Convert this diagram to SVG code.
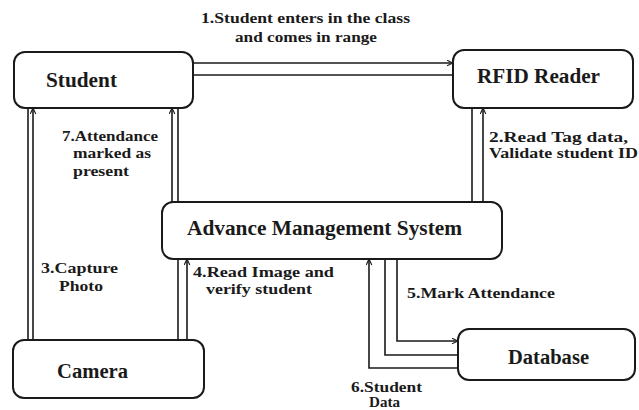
<svg xmlns="http://www.w3.org/2000/svg" width="639" height="410" viewBox="0 0 639 410">
  <style>
    .box { fill: #ffffff; stroke: #1a1a1a; stroke-width: 2; }
    .node { font-family: "Liberation Serif", "Times New Roman", serif; font-weight: bold; font-size: 20px; fill: #1a1a1a; }
    .lbl { font-family: "Liberation Serif", "Times New Roman", serif; font-weight: bold; font-size: 15px; fill: #1a1a1a; }
    .ln { fill: none; stroke: #1a1a1a; stroke-width: 1.6; }
    .arr { marker-end: url(#ah); }
  </style>
  <defs>
    <marker id="ah" viewBox="0 0 10 10" refX="9.5" refY="5" markerWidth="7" markerHeight="7" markerUnits="userSpaceOnUse" orient="auto">
      <path d="M1,1 L9.5,5 L1,9" fill="none" stroke="#1a1a1a" stroke-width="1.6"/>
    </marker>
  </defs>
  <rect width="639" height="410" fill="#ffffff"/>

  <g id="connectors">
    <!-- 1. Student -> RFID -->
    <line class="ln arr" x1="193" y1="63" x2="453" y2="63"/>
    <line class="ln" x1="193" y1="75" x2="453" y2="75"/>
    <!-- 2. AMS -> RFID -->
    <line class="ln" x1="472" y1="108" x2="472" y2="202"/>
    <line class="ln arr" x1="483" y1="202" x2="483" y2="108"/>
    <!-- 7. AMS -> Student -->
    <line class="ln arr" x1="172" y1="202" x2="172" y2="108"/>
    <line class="ln" x1="178" y1="108" x2="178" y2="202"/>
    <!-- 3. Camera -> Student -->
    <line class="ln" x1="28" y1="108" x2="28" y2="340"/>
    <line class="ln arr" x1="33" y1="340" x2="33" y2="108"/>
    <!-- 4. Camera -> AMS -->
    <line class="ln" x1="178" y1="259" x2="178" y2="340"/>
    <line class="ln arr" x1="187" y1="340" x2="187" y2="259"/>
    <!-- 5. AMS -> Database -->
    <path class="ln arr" d="M397,259 V341 H458"/>
    <path class="ln" d="M385,259 V355 H458"/>
    <!-- 6. Database -> AMS -->
    <path class="ln arr" d="M458,368 H369 V259"/>
  </g>

  <g id="student">
    <rect class="box" x="14" y="52" width="179" height="56" rx="11"/>
    <text class="node" x="46" y="87" textLength="71" lengthAdjust="spacingAndGlyphs">Student</text>
  </g>
  <g id="rfid-reader">
    <rect class="box" x="453" y="50" width="180" height="58" rx="11"/>
    <text class="node" x="477" y="83" textLength="123" lengthAdjust="spacingAndGlyphs">RFID Reader</text>
  </g>
  <g id="advance-management-system">
    <rect class="box" x="162" y="202" width="340" height="57" rx="11"/>
    <text class="node" x="187" y="235" textLength="275" lengthAdjust="spacingAndGlyphs">Advance Management System</text>
  </g>
  <g id="camera">
    <rect class="box" x="13" y="340" width="191" height="58" rx="11"/>
    <text class="node" x="57" y="378" textLength="71" lengthAdjust="spacingAndGlyphs">Camera</text>
  </g>
  <g id="database">
    <rect class="box" x="458" y="329" width="177" height="51" rx="11"/>
    <text class="node" x="508" y="364" textLength="81" lengthAdjust="spacingAndGlyphs">Database</text>
  </g>

  <g id="labels">
    <text class="lbl" x="201" y="23" textLength="209" lengthAdjust="spacingAndGlyphs">1.Student enters in the class</text>
    <text class="lbl" x="235" y="42" textLength="142" lengthAdjust="spacingAndGlyphs">and comes in range</text>

    <text class="lbl" x="489" y="142" textLength="139" lengthAdjust="spacingAndGlyphs">2.Read Tag data,</text>
    <text class="lbl" x="489" y="158" textLength="149" lengthAdjust="spacingAndGlyphs">Validate student ID</text>

    <text class="lbl" x="62" y="141" textLength="96" lengthAdjust="spacingAndGlyphs">7.Attendance</text>
    <text class="lbl" x="73" y="158" textLength="78" lengthAdjust="spacingAndGlyphs">marked as</text>
    <text class="lbl" x="73" y="176" textLength="56" lengthAdjust="spacingAndGlyphs">present</text>

    <text class="lbl" x="41" y="273" textLength="77" lengthAdjust="spacingAndGlyphs">3.Capture</text>
    <text class="lbl" x="59" y="291" textLength="44" lengthAdjust="spacingAndGlyphs">Photo</text>

    <text class="lbl" x="193" y="277" textLength="141" lengthAdjust="spacingAndGlyphs">4.Read Image and</text>
    <text class="lbl" x="206" y="294" textLength="106" lengthAdjust="spacingAndGlyphs">verify student</text>

    <text class="lbl" x="407" y="298" textLength="148" lengthAdjust="spacingAndGlyphs">5.Mark Attendance</text>

    <text class="lbl" x="351" y="392" textLength="71" lengthAdjust="spacingAndGlyphs">6.Student</text>
    <text class="lbl" x="369" y="407" textLength="31" lengthAdjust="spacingAndGlyphs">Data</text>
  </g>
</svg>
